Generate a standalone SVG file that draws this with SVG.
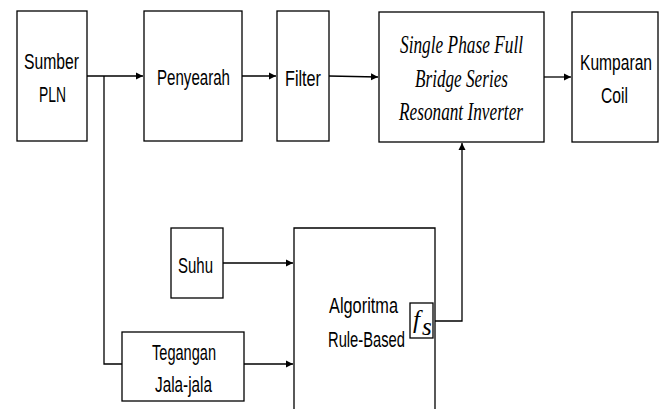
<svg xmlns="http://www.w3.org/2000/svg" width="660" height="409" viewBox="0 0 660 409">
<defs>
<marker id="ah" markerWidth="8" markerHeight="8" refX="7" refY="4" orient="auto" markerUnits="userSpaceOnUse">
<path d="M0,0.5 L7,4 L0,7.5 Z" fill="#000"/>
</marker>
<style>
.box{fill:#fff;stroke:#000;stroke-width:1.3}
.t{font-family:"Liberation Sans",Arial,sans-serif;font-size:22px;fill:#000}
.ti{font-family:"Liberation Serif","Times New Roman",serif;font-style:italic;font-size:25px;fill:#000}
.c{fill:none;stroke:#000;stroke-width:1.3}
</style>
</defs>
<rect width="660" height="409" fill="#fff"/>
<g id="connectors">
<path class="c" d="M87,76 H143" marker-end="url(#ah)"/>
<path class="c" d="M104,76 V364 H122"/>
<path class="c" d="M242,76 H276" marker-end="url(#ah)"/>
<path class="c" d="M329,76 L378,77" marker-end="url(#ah)"/>
<path class="c" d="M544,77 H571" marker-end="url(#ah)"/>
<path class="c" d="M223,263 H293" marker-end="url(#ah)"/>
<path class="c" d="M244,364 H293" marker-end="url(#ah)"/>
<path class="c" d="M435,321 H462 V143" marker-end="url(#ah)"/>
</g>
<g id="sumber">
<rect class="box" x="17" y="11" width="70" height="130"/>
<text class="t" x="24" y="69" textLength="55" lengthAdjust="spacingAndGlyphs">Sumber</text>
<text class="t" x="39" y="102" textLength="27" lengthAdjust="spacingAndGlyphs">PLN</text>
</g>
<g id="penyearah">
<rect class="box" x="144" y="11" width="98" height="130"/>
<text class="t" x="157" y="85" textLength="73" lengthAdjust="spacingAndGlyphs">Penyearah</text>
</g>
<g id="filter">
<rect class="box" x="277" y="11" width="52" height="130"/>
<text class="t" x="285" y="86" textLength="36" lengthAdjust="spacingAndGlyphs">Filter</text>
</g>
<g id="inverter">
<rect class="box" x="379" y="12" width="165" height="130"/>
<text class="ti" x="400" y="53" textLength="123" lengthAdjust="spacingAndGlyphs">Single Phase Full</text>
<text class="ti" x="415" y="87" textLength="93" lengthAdjust="spacingAndGlyphs">Bridge Series</text>
<text class="ti" x="399" y="120" textLength="124" lengthAdjust="spacingAndGlyphs">Resonant Inverter</text>
</g>
<g id="kumparan">
<rect class="box" x="572" y="12" width="86" height="130"/>
<text class="t" x="580" y="70" textLength="72" lengthAdjust="spacingAndGlyphs">Kumparan</text>
<text class="t" x="601" y="103" textLength="27" lengthAdjust="spacingAndGlyphs">Coil</text>
</g>
<g id="suhu">
<rect class="box" x="171" y="228" width="52" height="70"/>
<text class="t" x="178" y="273" textLength="35" lengthAdjust="spacingAndGlyphs">Suhu</text>
</g>
<g id="tegangan">
<rect class="box" x="122" y="332" width="122" height="69"/>
<text class="t" x="152" y="360" textLength="64" lengthAdjust="spacingAndGlyphs">Tegangan</text>
<text class="t" x="155" y="392" textLength="57" lengthAdjust="spacingAndGlyphs">Jala-jala</text>
</g>
<g id="algoritma">
<path class="c" d="M294,409 V228 H435 V409"/>
<text class="t" x="329" y="313" textLength="69" lengthAdjust="spacingAndGlyphs">Algoritma</text>
<text class="t" x="328" y="347" textLength="77" lengthAdjust="spacingAndGlyphs">Rule-Based</text>
<rect class="box" x="410" y="303" width="23" height="35"/>
<text class="ti" x="413" y="328" font-size="21">f</text>
<text class="ti" x="422" y="335" font-size="12">s</text>
</g>
</svg>
